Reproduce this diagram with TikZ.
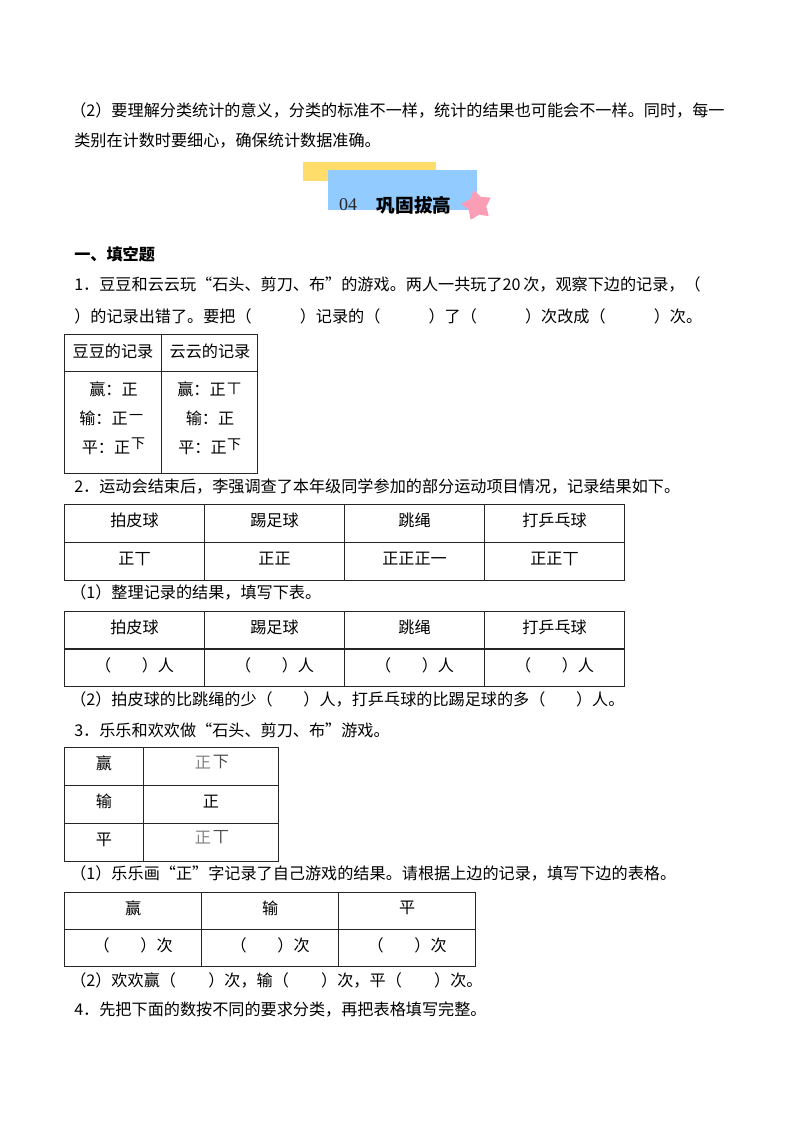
\documentclass[tikz,border=0pt]{standalone}
\usepackage{fontspec}
\setmainfont{Noto Sans CJK SC}
\newfontfamily\serifdigits{Liberation Serif}
\usetikzlibrary{shapes.geometric}
\definecolor{bandyellow}{HTML}{FFDD6B}
\definecolor{bandblue}{HTML}{92CBFF}
\definecolor{starpink}{HTML}{FB9DB4}
\tikzset{
	line/.style={anchor=west,inner sep=0pt,font=\fontsize{12.1}{14}\selectfont},
	lab/.style={inner sep=0pt,font=\fontsize{12.1}{14}\selectfont},
	cell/.style={draw=black!85,line width=0.8pt,anchor=north west,inner sep=0pt},
	tally/.style={inner sep=0pt,font=\fontsize{10.5}{12}\selectfont}
}
\begin{document}
\begin{tikzpicture}[x=0.75pt,y=-0.75pt]
		\useasboundingbox (0,0) rectangle (800,1132);
		
		% Texto superior
		\node[line] (intro1) at (70,110) {（2）要理解分类统计的意义，分类的标准不一样，统计的结果也可能会不一样。同时，每一};
		\node[line] (intro2) at (74,141) {类别在计数时要细心，确保统计数据准确。};
		
		% Titulo
		\fill[bandyellow] (303,162) rectangle (436,181);
		\fill[bandblue] (328,170) rectangle (477,210);
		\node[star,star points=5,star point ratio=1.7,fill=starpink,draw=starpink,line join=round,line width=1pt,minimum size=22pt,inner sep=0pt,rotate=12] (mark) at (477,205.5) {};
		\node[inner sep=0pt,font=\serifdigits\fontsize{13.5}{15}\selectfont,text=black!85] (num) at (348,205) {04};
		\node[inner sep=0pt,font=\fontsize{14}{16}\bfseries\selectfont] (title) at (414,205) {巩固拔高};
		
		\node[line,font=\fontsize{12.1}{14}\bfseries\selectfont] (sec) at (74,254) {一、填空题};
		\node[line] (q1a) at (74,284) {1．豆豆和云云玩“石头、剪刀、布”的游戏。两人一共玩了20\hspace{2pt}次，观察下边的记录，（};
		\node[line] (q1b) at (74,316) {）的记录出错了。要把（\hspace{2.98em}）记录的（\hspace{2.98em}）了（\hspace{2.98em}）次改成（\hspace{2.98em}）次。};
		
		% Tabla 1
		\node[cell,minimum width=72.4pt,minimum height=27.8pt] (t1a) at (64,334) {};
		\node[cell,minimum width=72.4pt,minimum height=27.8pt] (t1b) at (160.5,334) {};
		\node[cell,minimum width=72.4pt,minimum height=76.5pt] (t1c) at (64,371) {};
		\node[cell,minimum width=72.4pt,minimum height=76.5pt] (t1d) at (160.5,371) {};
		\node[lab] at (113,351) {豆豆的记录};
		\node[lab] at (210,351) {云云的记录};
		\node[lab] at (113.5,389) {赢：正};
		\node[lab] at (201.5,389) {赢：正};
		\node[tally] at (234,389) {丅};
		\node[lab] at (103.5,418) {输：正};
		\node[tally] at (136,417) {一};
		\node[lab] at (210,418) {输：正};
		\node[lab] at (106,448) {平：正};
		\node[tally] at (138,444) {下};
		\node[lab] at (202.5,448) {平：正};
		\node[tally] at (234,445) {下};
		
		\node[line] (q2) at (74,487) {2．运动会结束后，李强调查了本年级同学参加的部分运动项目情况，记录结果如下。};
		
		% Tabla 2
		\foreach \col/\head/\mk [count=\i] in {64/拍皮球/正丅,204/踢足球/正正,344/跳绳/正正正一,484/打乒乓球/正正丅}{
			\node[cell,minimum width=105pt,minimum height=28.5pt] (t2h\i) at (\col,504) {};
			\node[cell,minimum width=105pt,minimum height=28.5pt] (t2m\i) at (\col,542) {};
			\node[lab] at ([yshift=2pt]t2h\i.center) {\head};
			\node[lab] at ([yshift=2pt]t2m\i.center) {\mk};
		}
		
		\node[line] (q21) at (70,592) {（1）整理记录的结果，填写下表。};
		
		% Tabla 3
		\foreach \col/\head [count=\i] in {64/拍皮球,204/踢足球,344/跳绳,484/打乒乓球}{
			\node[cell,minimum width=105pt,minimum height=28pt] (t3h\i) at (\col,611) {};
			\node[cell,minimum width=105pt,minimum height=28pt] (t3m\i) at (\col,648.5) {};
			\node[lab] at ([yshift=2pt]t3h\i.center) {\head};
			\node[lab] at ([yshift=2pt]t3m\i.center) {（\hspace{1.9em}）人};
		}
		
		\node[line] (q22) at (70,699) {（2）拍皮球的比跳绳的少（\hspace{1.9em}）人，打乒乓球的比踢足球的多（\hspace{1.9em}）人。};
		\node[line] (q3) at (74,730) {3．乐乐和欢欢做“石头、剪刀、布”游戏。};
		
		% Tabla 4
		\foreach \row/\head [count=\i] in {747/赢,785/输,823/平}{
			\node[cell,minimum width=59.2pt,minimum height=28.3pt] (t4h\i) at (64,\row) {};
			\node[cell,minimum width=101.5pt,minimum height=28.3pt] (t4m\i) at (143,\row) {};
			\node[lab] at ([yshift=2pt]t4h\i.center) {\head};
		}
		\node[lab,text=black!50] at (203,763) {正};
		\node[lab,text=black!70] at (221,762) {下};
		\node[lab] at (211,802) {正};
		\node[lab,text=black!50] at (203,838) {正};
		\node[lab,text=black!70] at (221,837) {丅};
		
		\node[line] (q31) at (70,873) {（1）乐乐画“正”字记录了自己游戏的结果。请根据上边的记录，填写下边的表格。};
		
		% Tabla 5
		\foreach \col/\head [count=\i] in {64/赢,201/输,338/平}{
			\node[cell,minimum width=103pt,minimum height=28pt] (t5h\i) at (\col,891.5) {};
			\node[cell,minimum width=103pt,minimum height=28pt] (t5m\i) at (\col,929) {};
			\node[lab] at ([yshift=2pt]t5h\i.center) {\head};
			\node[lab] at ([yshift=2pt]t5m\i.center) {（\hspace{1.9em}）次};
		}
		
		\node[line] (q32) at (70,980) {（2）欢欢赢（\hspace{2em}）次，输（\hspace{2em}）次，平（\hspace{2em}）次。};
		\node[line] (q4) at (74,1010) {4．先把下面的数按不同的要求分类，再把表格填写完整。};
	\end{tikzpicture}
\end{document}
